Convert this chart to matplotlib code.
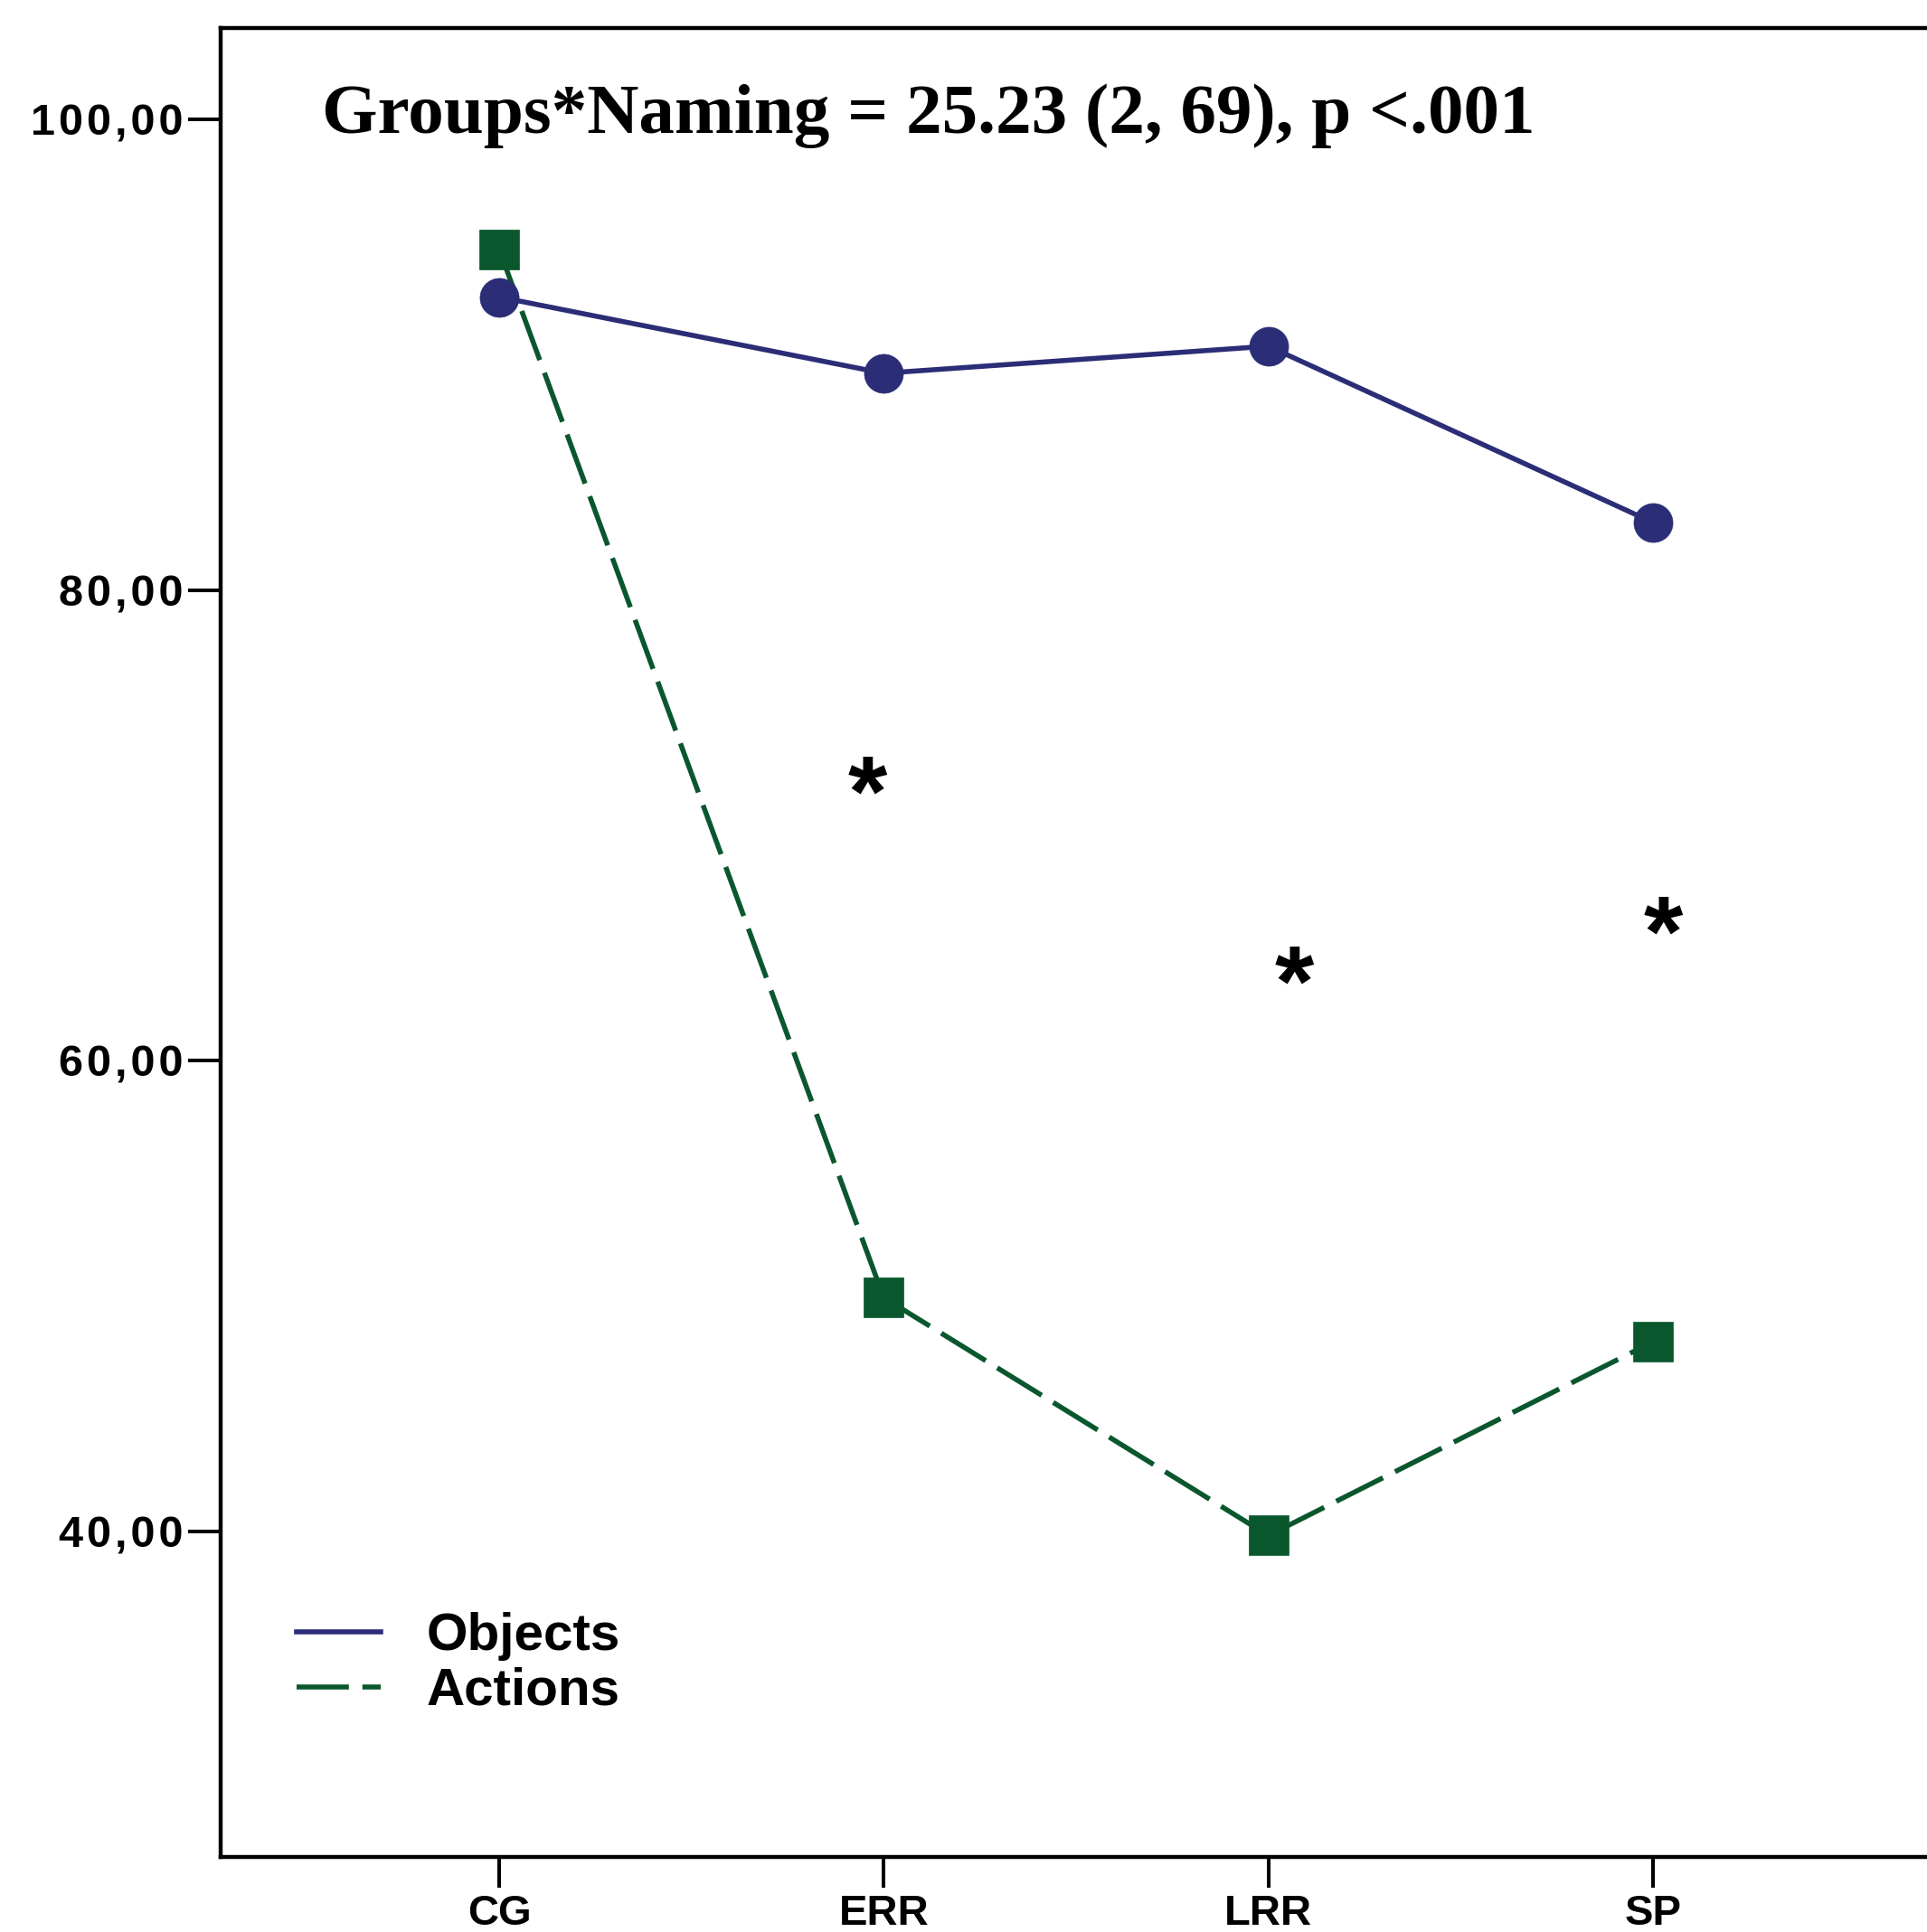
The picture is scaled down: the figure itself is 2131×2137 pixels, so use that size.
import matplotlib

matplotlib.use("Agg")

from matplotlib import pyplot
import numpy as np

# Data.
groups = ["CG", "ERR", "LRR", "SP"]
objects = [92.45, 89.21, 90.36, 82.87]
actions = [94.48, 49.93, 39.82, 48.05]
y_ticks = [40, 60, 80, 100]
y_tick_labels = ["40,00", "60,00", "80,00", "100,00"]
# Asterisks marking the significant differences (x in group units, y in data units).
star_x = [0.958, 2.068, 3.026]
star_y = [72.15, 64.08, 66.2]

title = "Groups*Naming = 25.23 (2, 69), p <.001"

color_obj = "#2b2d76"
color_act = "#0a572e"
W, H = 2131, 2137
HAIR = "\u200a"  # tick labels in the reference are letter-spaced

fig = pyplot.figure(figsize=(W / 100, H / 100), dpi=100)

# Axes placed in pixel terms; right spine falls just outside the canvas.
left, right, top, bottom = 244, 2138, 31, 2054
ax = fig.add_axes(
    [left / W, 1 - bottom / H, (right - left) / W, (bottom - top) / H]
)

x = np.arange(len(groups))
ax.plot(
    x,
    objects,
    color=color_obj,
    lw=4,
    marker="o",
    ms=31,
    mew=0.5,
    zorder=3,
    label="Objects",
)
ax.plot(
    x,
    actions,
    color=color_act,
    lw=4,
    marker="s",
    ms=31,
    mew=0.5,
    dashes=(10.4, 2.7),
    zorder=2,
    label="Actions",
)

for sx, sy in zip(star_x, star_y):
    ax.annotate(
        "*",
        (sx, sy),
        xytext=(0, -11.5),
        textcoords="offset points",
        fontsize=80,
        fontweight="bold",
        family="Liberation Sans",
        ha="center",
        va="center_baseline",
    )

ax.set_xlim(-0.724, 3.729)
ax.set_ylim(26.16, 103.88)

ax.set_xticks(x)
ax.set_xticklabels(groups, family="Liberation Sans", fontweight="bold", fontsize=34)
ax.set_yticks(y_ticks)
ax.set_yticklabels(
    [HAIR.join(s) for s in y_tick_labels],
    family=["Liberation Sans", "DejaVu Sans"],
    fontweight="bold",
    fontsize=35,
)
ax.tick_params(axis="y", length=26, width=2.9, pad=3.6)
ax.tick_params(axis="x", length=24.5, width=2.9, pad=5)

for side in ("left", "bottom", "top", "right"):
    ax.spines[side].set_linewidth(3.2)

fig.text(
    356 / W,
    1 - 147 / H,
    title,
    family="Liberation Serif",
    fontweight="bold",
    fontsize=57,
    ha="left",
    va="baseline",
)

leg = ax.legend(
    loc="upper left",
    bbox_to_anchor=(328 / W, 1 - 1783 / H),
    bbox_transform=fig.transFigure,
    frameon=False,
    prop={"family": "Liberation Sans", "weight": "bold", "size": 42},
    handlelength=1.6,
    handletextpad=0.86,
    labelspacing=0.12,
    borderpad=0,
    borderaxespad=0,
)
# Legend in the reference shows only the line styles.
for h in leg.get_lines():
    h.set_marker("")

fig.savefig("out.png", dpi=100)
